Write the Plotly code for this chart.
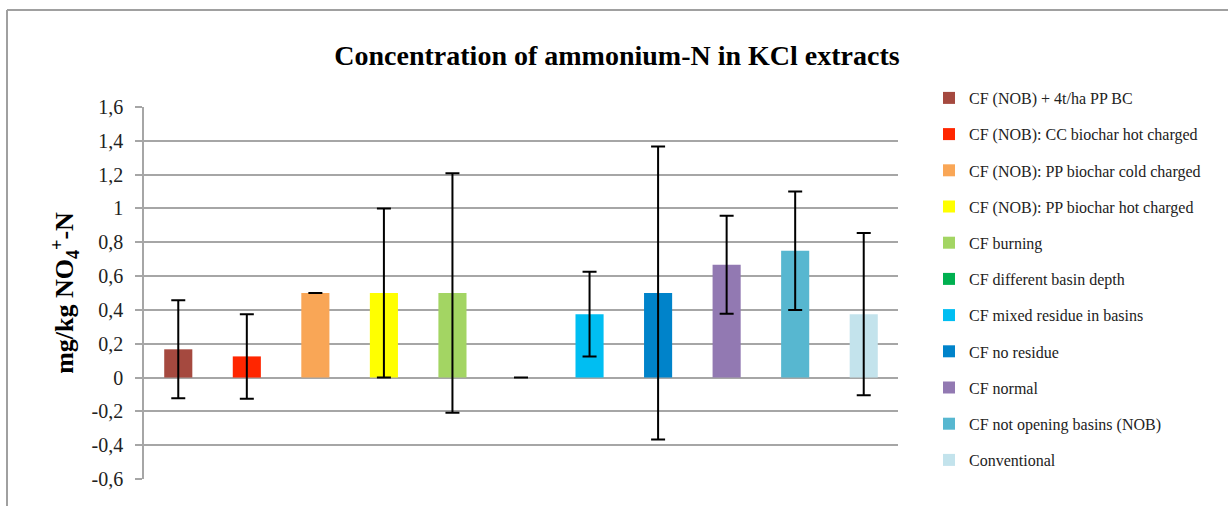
import plotly.graph_objects as go

series_names = [
    "CF (NOB) + 4t/ha PP BC",
    "CF (NOB): CC biochar hot charged",
    "CF (NOB): PP biochar cold charged",
    "CF (NOB): PP biochar hot charged",
    "CF burning",
    "CF different basin depth",
    "CF mixed residue in basins",
    "CF no residue",
    "CF normal",
    "CF not opening basins (NOB)",
    "Conventional",
]
values = [0.167, 0.125, 0.5, 0.5, 0.5, 0.0, 0.375, 0.5, 0.667, 0.75, 0.375]
errors = [0.29, 0.25, 0.0, 0.5, 0.708, 0.0, 0.25, 0.867, 0.29, 0.35, 0.48]
colors = ["#A5493F", "#FF2600", "#F9A656", "#FFFF00", "#A3D563", "#00B050",
          "#00BEF2", "#0083CA", "#9279B2", "#57B7D0", "#C3E3EC"]
tick_vals = [-0.6, -0.4, -0.2, 0, 0.2, 0.4, 0.6, 0.8, 1, 1.2, 1.4, 1.6]
tick_text = ["-0,6", "-0,4", "-0,2", "0", "0,2", "0,4", "0,6", "0,8", "1", "1,2", "1,4", "1,6"]

SERIF = "Liberation Serif, DejaVu Serif, serif"

fig = go.Figure()
for i, (name, v, e, c) in enumerate(zip(series_names, values, errors, colors)):
    fig.add_trace(go.Bar(
        x=[i], y=[v], name=name, marker=dict(color=c, line=dict(width=0)),
        width=0.41, legendgroup=name,
        error_y=dict(type="data", array=[e], visible=True, color="black",
                     thickness=2, width=7),
    ))

L, R, T, B = 144, 330, 107, 27
W, H = 1228, 506
pw, ph = W - L - R, H - T - B

def px_x(x):
    return (x - L) / pw

def px_y(y):
    return (H - B - y) / ph

fig.update_layout(
    width=W, height=H,
    margin=dict(l=L, r=R, t=T, b=B, autoexpand=False),
    paper_bgcolor="white", plot_bgcolor="white",
    barmode="overlay",
    showlegend=True,
    title=dict(text="<b>Concentration of ammonium-N in KCl extracts</b>",
               x=px_x(617), xref="paper", xanchor="center",
               y=1 - 55 / H, yanchor="middle",
               font=dict(family=SERIF, size=28, color="black")),
    font=dict(family=SERIF, color="black"),
    legend=dict(x=px_x(929), y=px_y(81), xref="paper", yref="paper",
                xanchor="left", yanchor="top", maxheight=500,
                font=dict(family=SERIF, size=16, color="#222"),
                traceorder="grouped", tracegroupgap=12.4,
                bgcolor="rgba(0,0,0,0)", itemclick=False),
    xaxis=dict(range=[-0.5, 10.5], showticklabels=False, showgrid=False,
               zeroline=False, showline=False, ticks=""),
    yaxis=dict(range=[-0.6, 1.6], tickvals=tick_vals, ticktext=tick_text,
               showgrid=True, gridcolor="#A6A6A6", gridwidth=1.5,
               zeroline=True, zerolinecolor="#A6A6A6", zerolinewidth=1.5,
               showline=True, linecolor="#A6A6A6", linewidth=1.5,
               ticks="outside", ticklen=7, tickcolor="#A6A6A6", tickwidth=1.5,
               ticklabelstandoff=8,
               tickfont=dict(family=SERIF, size=20, color="#222"),
               title=dict(text="<b>mg/kg NO<sub>4</sub><sup>+</sup>-N</b>",
                          font=dict(family=SERIF, size=26, color="black"),
                          standoff=10)),
    shapes=[
        dict(type="line", xref="paper", yref="paper", x0=px_x(7), x1=px_x(1240),
             y0=px_y(10), y1=px_y(10), line=dict(color="#A0A0A0", width=2)),
        dict(type="line", xref="paper", yref="paper", x0=px_x(7), x1=px_x(7),
             y0=px_y(10), y1=px_y(520), line=dict(color="#A0A0A0", width=2)),
    ],
)

fig.write_html("out.html", config={"displayModeBar": False},
               post_script="document.body.style.margin='0';document.body.style.overflow='hidden';")
